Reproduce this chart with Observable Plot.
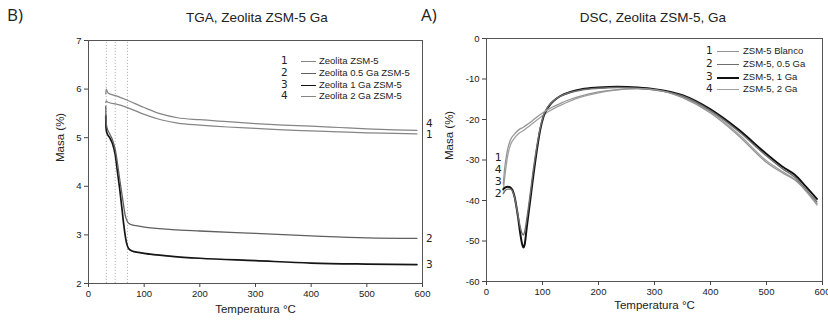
<!DOCTYPE html>
<html>
<head>
<meta charset="utf-8">
<script src="https://cdn.jsdelivr.net/npm/d3@7"></script>
<script src="https://cdn.jsdelivr.net/npm/@observablehq/plot@0.6"></script>
<style>
  body { margin: 0; background: #fff; }
  #wrap { position: relative; width: 828px; height: 323px; background: #fff; overflow: hidden; font-family: "Liberation Sans", Arial, sans-serif; }
  .panel { position: absolute; top: 0; }
  .title { position: absolute; top: 11px; font-size: 13.5px; color: #222; text-align: center; width: 240px; line-height: 1; }
  .tag { position: absolute; top: 6px; font-family: "Open Sans", sans-serif; font-size: 17px; color: #222; line-height: 1; }
  .legend { position: absolute; font-size: 9.5px; color: #222; }
  .legend .row { position: absolute; height: 0; }
  .legend .num { position: absolute; font-family: "DejaVu Sans", sans-serif; font-size: 10.5px; line-height: 1; }
  .legend .sw { position: absolute; height: 0; }
  .legend .lab { position: absolute; white-space: nowrap; line-height: 1; }
</style>
</head>
<body>
<div id="wrap">
  <div id="tga" class="panel" style="left:0px"></div>
  <div id="dsc" class="panel" style="left:440px"></div>
  <div class="tag" style="left:7px">B)</div>
  <div class="tag" style="left:421px">A)</div>
  <div class="title" style="left:137px">TGA, Zeolita ZSM-5 Ga</div>
  <div class="title" style="left:533px">DSC, Zeolita ZSM-5, Ga</div>
  <div id="legTGA" class="legend" style="left:281px; top:61px"></div>
  <div id="legDSC" class="legend" style="left:706px; top:51px"></div>
</div>
<script>
// ---------- TGA data ----------
const tgaNames = ["Zeolita ZSM-5", "Zeolita 0.5 Ga ZSM-5", "Zeolita 1 Ga ZSM-5", "Zeolita 2 Ga ZSM-5"];
const tgaColors = ["#858585", "#5f5f5f", "#151515", "#858585"];
const tgaWidths = [1.2, 1.3, 1.7, 1.2];

const tgaT1 = [31, 32, 35, 50, 70, 100, 130, 160, 200, 250, 300, 350, 400, 450, 500, 550, 590];
const tgaM1 = [5.72, 5.76, 5.73, 5.69, 5.62, 5.48, 5.37, 5.30, 5.26, 5.22, 5.19, 5.16, 5.14, 5.12, 5.10, 5.09, 5.08];

const tgaT2 = [31, 31.5, 33, 38, 43, 48, 52, 56, 61, 66, 70, 75, 85, 100, 150, 200, 300, 400, 500, 590];
const tgaM2 = [5.65, 5.35, 5.22, 5.08, 4.96, 4.76, 4.48, 4.15, 3.77, 3.40, 3.27, 3.22, 3.19, 3.16, 3.11, 3.08, 3.03, 2.98, 2.94, 2.93];

const tgaT3 = [31, 31.5, 33, 38, 43, 48, 52, 56, 60, 64, 68, 72, 78, 90, 100, 150, 200, 300, 400, 500, 590];
const tgaM3 = [5.45, 5.20, 5.10, 5.00, 4.88, 4.65, 4.30, 3.95, 3.55, 3.15, 2.85, 2.72, 2.67, 2.64, 2.62, 2.56, 2.52, 2.47, 2.42, 2.40, 2.39];

const tgaT4 = [31, 32, 35, 50, 70, 100, 130, 160, 200, 250, 300, 350, 400, 450, 500, 550, 590];
const tgaM4 = [5.90, 6.00, 5.92, 5.86, 5.77, 5.62, 5.49, 5.41, 5.37, 5.33, 5.29, 5.26, 5.24, 5.21, 5.18, 5.16, 5.15];

const tgaMarkers = [32, 48, 70];           // dotted vertical guides (°C)
const tgaEndLabels = ["1", "2", "3", "4"];
const tgaYTicks = [2, 3, 4, 5, 6, 7];
const xTicks = [0, 100, 200, 300, 400, 500, 600];

// ---------- DSC data ----------
const dscNames = ["ZSM-5 Blanco", "ZSM-5, 0.5 Ga", "ZSM-5, 1 Ga", "ZSM-5, 2 Ga"];
const dscColors = ["#959595", "#6e6e6e", "#111111", "#a0a0a0"];
const dscWidths = [1.3, 1.4, 2.0, 1.3];

const dscT1 = [30, 32, 35, 38, 43, 50, 58, 66, 73, 82, 90, 100, 110, 120, 132, 150, 168, 200, 234, 270, 300, 350, 400, 450, 500, 530, 550, 570, 590];
const dscV1 = [-36.0, -32.6, -29.5, -27.2, -25.0, -23.6, -22.5, -21.9, -21.2, -20.3, -19.4, -18.4, -17.5, -16.8, -16.0, -15.0, -14.2, -13.2, -12.6, -12.4, -12.6, -14.6, -18.4, -24.0, -30.6, -33.3, -34.9, -37.5, -40.8];

const dscT2 = [30, 33, 38, 43, 50, 56, 61, 64, 66, 68, 72, 78, 84, 90, 96, 102, 110, 120, 132, 150, 170, 200, 234, 270, 300, 350, 400, 450, 500, 530, 550, 570, 590];
const dscV2 = [-38.3, -37.6, -37.2, -37.2, -39.2, -43.5, -47.0, -48.3, -48.5, -47.8, -44.5, -38.5, -32.0, -26.5, -22.0, -18.9, -16.8, -15.3, -14.2, -13.3, -12.7, -12.3, -12.1, -12.3, -12.7, -14.2, -17.8, -22.9, -29.0, -32.3, -34.2, -37.2, -40.3];

const dscT3 = [30, 33, 38, 43, 50, 56, 61, 64, 66, 68, 72, 78, 84, 90, 96, 102, 110, 120, 132, 150, 170, 200, 234, 270, 300, 350, 400, 450, 500, 530, 550, 570, 590];
const dscV3 = [-37.2, -36.8, -36.6, -36.8, -39.0, -43.8, -48.8, -51.0, -51.6, -51.0, -46.5, -40.0, -33.5, -27.5, -22.5, -19.2, -17.0, -15.4, -14.2, -13.2, -12.5, -12.1, -11.9, -12.1, -12.5, -14.0, -17.5, -22.5, -28.5, -31.8, -33.6, -36.5, -39.6];

const dscT4 = [30, 32, 35, 38, 43, 50, 58, 66, 73, 82, 90, 100, 110, 120, 132, 150, 168, 200, 234, 270, 300, 350, 400, 450, 500, 530, 550, 570, 590];
const dscV4 = [-37.5, -35.0, -31.5, -28.8, -26.2, -24.6, -23.4, -22.7, -22.0, -21.0, -20.1, -19.1, -18.1, -17.3, -16.5, -15.4, -14.5, -13.4, -12.7, -12.4, -12.6, -14.5, -18.1, -23.6, -30.2, -33.0, -34.7, -37.6, -41.1];

const dscStartLabels = ["1", "4", "3", "2"];
const dscStartLabelV = [-29.4, -32.4, -35.3, -38.2];
const dscStartLabelT = [21, 21, 21, 21];
const dscYTicks = [-60, -50, -40, -30, -20, -10, 0];

// ---------- build ----------
function series(names, Ts, Vs) {
  const rows = [];
  names.forEach((n, i) => Ts[i].forEach((t, j) => rows.push({s: i, name: n, t, v: Vs[i][j]})));
  return rows;
}
const tgaRows = series(tgaNames, [tgaT1, tgaT2, tgaT3, tgaT4], [tgaM1, tgaM2, tgaM3, tgaM4]);
const dscRows = series(dscNames, [dscT1, dscT2, dscT3, dscT4], [dscV1, dscV2, dscV3, dscV4]);

const tgaEnds = [tgaT1, tgaT2, tgaT3, tgaT4].map((T, i) => {
  const M = [tgaM1, tgaM2, tgaM3, tgaM4][i];
  return {label: tgaEndLabels[i], t: T[T.length - 1], v: M[M.length - 1]};
});
const dscStarts = dscStartLabels.map((l, i) => ({label: l, t: dscStartLabelT[i], v: dscStartLabelV[i]}));

const axisStyle = {fontFamily: "Liberation Sans, Arial, sans-serif", fontSize: "9.5px", color: "#1a1a1a", background: "transparent", overflow: "visible"};

function lines(rows, colors, widths) {
  return colors.map((c, i) => Plot.line(rows.filter(r => r.s === i), {x: "t", y: "v", stroke: c, strokeWidth: widths[i], curve: "monotone-x"}));
}
const endLabel = (d, dy) => Plot.text([d], {x: "t", y: "v", text: "label", dx: 9, dy, textAnchor: "start", fontSize: 10.5, fontFamily: "DejaVu Sans, sans-serif", fill: "#222"});

const tga = Plot.plot({
  width: 440, height: 323,
  marginLeft: 88, marginRight: 18, marginTop: 40, marginBottom: 40,
  style: axisStyle,
  x: {domain: [0, 600]},
  y: {domain: [2, 7]},
  marks: [
    Plot.ruleX(tgaMarkers, {y1: 2, y2: 7, stroke: "#b5b5b5", strokeDasharray: "1.2,1.8", strokeWidth: 1}),
    ...lines(tgaRows, tgaColors, tgaWidths).reverse(),
    Plot.frame({stroke: "#555", strokeWidth: 1}),
    Plot.axisX({ticks: xTicks, tickSize: 4, tickPadding: 3, label: null, stroke: "#444", tickFormat: d => String(d)}),
    Plot.axisY({ticks: tgaYTicks, tickSize: 4, tickPadding: 3, label: null, stroke: "#444", tickFormat: d => String(d)}),
    endLabel(tgaEnds[0], 1),
    endLabel(tgaEnds[1], 0),
    endLabel(tgaEnds[2], 0),
    endLabel(tgaEnds[3], -7),
    Plot.text(["Masa (%)"], {frameAnchor: "left", dx: -28, rotate: -90, fontSize: 11.5, fill: "#222"}),
    Plot.text(["Temperatura °C"], {frameAnchor: "bottom", dy: 29, fontSize: 11.5, fill: "#222"})
  ]
});
document.getElementById("tga").appendChild(tga);

const dsc = Plot.plot({
  width: 388, height: 323,
  marginLeft: 46, marginRight: 6, marginTop: 38, marginBottom: 42,
  style: axisStyle,
  x: {domain: [0, 600]},
  y: {domain: [-60, 0]},
  marks: [
    ...lines(dscRows, dscColors, dscWidths).reverse(),
    Plot.frame({stroke: "#555", strokeWidth: 1}),
    Plot.axisX({ticks: xTicks, tickSize: 4, tickPadding: 3, label: null, stroke: "#444", tickFormat: d => String(d)}),
    Plot.axisY({ticks: dscYTicks, tickSize: 4, tickPadding: 3, label: null, stroke: "#444", tickFormat: d => String(d)}),
    Plot.text(dscStarts, {x: "t", y: "v", text: "label", fontSize: 11, fontFamily: "DejaVu Sans, sans-serif", fill: "#222"}),
    Plot.text(["Masa (%)"], {frameAnchor: "left", dx: -37, rotate: -90, fontSize: 11.5, fill: "#222"}),
    Plot.text(["Temperatura °C"], {frameAnchor: "bottom", dy: 27, fontSize: 11.5, fill: "#222"})
  ]
});
document.getElementById("dsc").appendChild(dsc);

// ---------- legends ----------
function legend(el, names, colors, widths, step, numX, swX, swW, labX) {
  names.forEach((n, i) => {
    const row = document.createElement("div");
    row.className = "row";
    row.style.top = (i * step) + "px";
    row.innerHTML =
      `<span class="num" style="left:${numX}px; top:-6px">${i + 1}</span>` +
      `<span class="sw" style="left:${swX}px; top:0px; width:${swW}px; border-top:${widths[i]}px solid ${colors[i]}"></span>` +
      `<span class="lab" style="left:${labX}px; top:-5px">${n}</span>`;
    el.appendChild(row);
  });
}
legend(document.getElementById("legTGA"), tgaNames, tgaColors, tgaWidths, 11.8, 0, 20, 15, 38);
legend(document.getElementById("legDSC"), dscNames, dscColors, dscWidths, 12.8, 0, 11, 22, 37);
</script>
</body>
</html>
